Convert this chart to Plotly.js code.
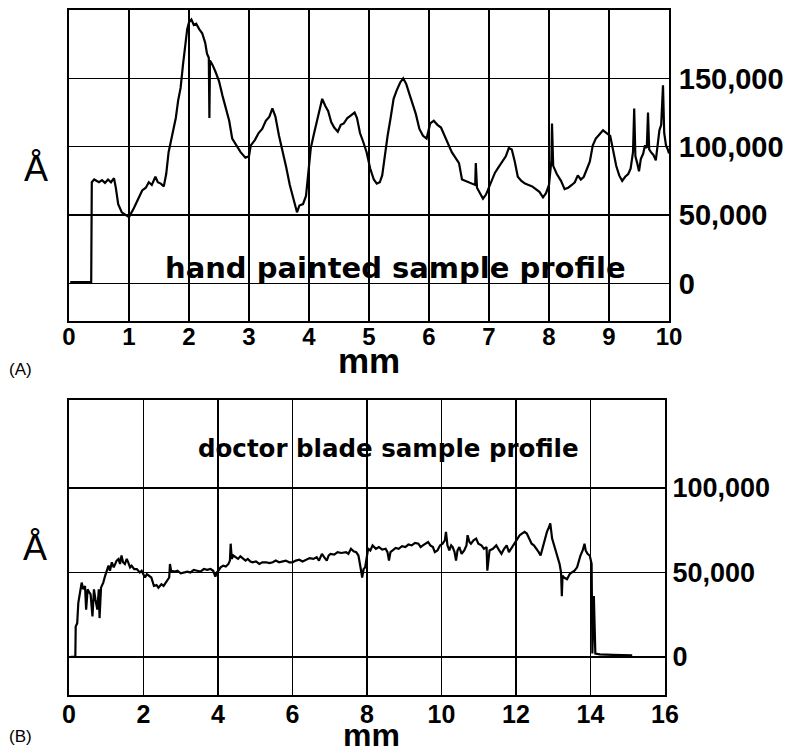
<!DOCTYPE html>
<html>
<head>
<meta charset="utf-8">
<script src="https://cdn.plot.ly/plotly-3.0.1.min.js"></script>
<style>html,body{margin:0;padding:0;background:#fff;}#chart{width:788px;height:752px;}</style>
</head>
<body>
<div id="chart"></div>
<script>
// ---- (A) hand painted sample profile : position (mm) and height (Å)
var handX = [0.02,0.2,0.37,0.38,0.42,0.5,0.55,0.6,0.65,0.7,0.75,0.78,0.82,0.88,0.95,1.0,1.08,1.15,1.22,1.28,1.33,1.38,1.44,1.48,1.53,1.58,1.62,1.66,1.72,1.78,1.82,1.86,1.9,1.93,1.97,2.0,2.04,2.08,2.12,2.17,2.22,2.27,2.3,2.33,2.34,2.35,2.39,2.44,2.5,2.56,2.62,2.67,2.72,2.78,2.86,2.94,3.0,3.03,3.1,3.16,3.22,3.28,3.34,3.39,3.44,3.5,3.56,3.62,3.68,3.74,3.8,3.84,3.9,3.95,3.98,4.03,4.08,4.13,4.18,4.22,4.27,4.32,4.37,4.42,4.48,4.53,4.58,4.64,4.7,4.76,4.8,4.85,4.9,4.96,5.02,5.08,5.13,5.18,5.22,5.27,5.31,5.36,5.41,5.46,5.52,5.57,5.62,5.67,5.72,5.78,5.84,5.9,5.96,6.02,6.08,6.14,6.2,6.26,6.32,6.38,6.44,6.5,6.55,6.6,6.66,6.72,6.77,6.78,6.8,6.85,6.9,6.95,7.0,7.05,7.1,7.16,7.22,7.28,7.33,7.38,7.43,7.48,7.54,7.6,7.66,7.72,7.78,7.84,7.9,7.95,8.0,8.04,8.05,8.07,8.13,8.2,8.26,8.32,8.38,8.43,8.48,8.53,8.58,8.63,8.68,8.73,8.78,8.84,8.9,8.96,9.02,9.07,9.12,9.17,9.22,9.27,9.32,9.36,9.4,9.42,9.44,9.47,9.5,9.53,9.57,9.6,9.63,9.65,9.67,9.7,9.74,9.78,9.81,9.84,9.87,9.9,9.92,9.95,9.98,10.0];
var handY = [1000,800,1000,74000,76000,74000,75500,73500,76000,74000,77000,70000,58000,52000,50000,48500,55000,62000,68000,70000,74000,72000,78000,74000,73000,71000,80000,96000,108000,121000,134000,143000,160000,172000,186000,191000,193000,189000,190000,186000,183000,176000,168000,165000,121000,163000,160000,155000,148000,137000,128000,119000,106000,102000,96000,92000,93000,101000,105000,110000,113000,119000,122000,128000,122000,108000,97000,85000,72000,62000,52000,57000,58000,64000,77000,99000,109000,119000,128000,135000,130000,126000,118000,114000,111000,116000,117000,121000,123000,125000,121000,110000,104000,96000,84000,76000,73000,74000,79000,97000,108000,121000,135000,141000,147000,150000,146000,139000,132000,124000,113000,108000,106000,117000,119000,116000,114000,108000,102000,96000,92000,88000,76000,75000,74000,73000,72000,88000,70000,66000,62000,65000,70000,76000,81000,85000,89000,93000,99000,98000,89000,78000,75000,73000,72000,71000,69000,67000,63000,66000,72000,90000,117000,86000,80000,75000,69000,70000,72000,74000,79000,76000,78000,83000,89000,101000,106000,109000,112000,110000,108000,97000,86000,79000,75000,78000,80000,84000,96000,128000,93000,88000,82000,91000,95000,101000,99000,125000,98000,96000,94000,90000,103000,112000,116000,145000,110000,101000,98000,95000];

// ---- (B) doctor blade sample profile
var bladeX = [0.05,0.17,0.18,0.22,0.25,0.3,0.34,0.38,0.43,0.46,0.5,0.55,0.58,0.63,0.67,0.71,0.76,0.8,0.82,0.86,0.92,0.97,1.02,1.06,1.1,1.15,1.2,1.24,1.28,1.33,1.37,1.41,1.45,1.5,1.55,1.59,1.64,1.68,1.75,1.82,1.9,1.95,2.0,2.04,2.09,2.15,2.21,2.28,2.35,2.4,2.48,2.54,2.62,2.69,2.71,2.74,2.85,2.91,3.0,3.09,3.18,3.26,3.35,3.44,3.53,3.62,3.71,3.8,3.87,3.93,3.97,4.01,4.07,4.14,4.21,4.28,4.32,4.34,4.37,4.41,4.47,4.54,4.6,4.67,4.74,4.8,4.87,4.93,5.02,5.11,5.19,5.29,5.38,5.47,5.55,5.64,5.73,5.82,5.91,6.0,6.09,6.18,6.27,6.37,6.46,6.56,6.65,6.71,6.79,6.85,6.92,6.97,7.02,7.12,7.21,7.31,7.44,7.5,7.57,7.64,7.71,7.77,7.81,7.85,7.87,7.91,7.95,7.99,8.03,8.09,8.15,8.24,8.32,8.41,8.5,8.55,8.59,8.63,8.68,8.77,8.85,8.94,9.03,9.11,9.2,9.29,9.38,9.44,9.5,9.57,9.64,9.7,9.77,9.82,9.89,9.96,10.03,10.09,10.12,10.16,10.21,10.26,10.3,10.35,10.39,10.43,10.48,10.54,10.61,10.67,10.7,10.75,10.79,10.86,10.93,10.99,11.07,11.14,11.21,11.23,11.26,11.29,11.38,11.47,11.55,11.61,11.68,11.75,11.81,11.84,11.91,11.97,12.03,12.1,12.16,12.23,12.29,12.35,12.42,12.48,12.55,12.61,12.66,12.71,12.77,12.83,12.89,12.92,12.97,13.01,13.07,13.12,13.17,13.21,13.23,13.25,13.29,13.37,13.44,13.5,13.57,13.64,13.69,13.73,13.79,13.84,13.87,13.92,13.98,14.03,14.05,14.09,14.13,14.25,14.6,15.12];
var bladeY = [0,0,18000,20000,32000,38000,44000,40000,42000,28000,40000,38000,37000,24000,40000,34000,28000,40000,23000,41000,44000,48000,52000,54000,51000,56000,53000,55000,57000,58000,55000,60000,56000,55000,58000,56000,53000,54000,52000,52000,50000,51000,49000,47000,49000,48000,47000,42000,42500,41000,43000,42000,45000,47000,55000,51000,50500,51000,49500,50000,50500,50000,51500,51000,50500,52000,51500,52000,51000,47500,50000,51000,53000,54000,53500,55000,57000,67000,58000,60000,59000,58000,59500,58000,57000,58000,56500,56000,56500,55000,56000,56000,55500,56000,57000,56000,56500,57000,56000,56000,57000,57500,56500,57500,58500,58000,59000,57000,61000,59000,57000,60000,61000,60500,62000,61500,62000,61000,64000,62500,62000,60000,56000,50000,47000,52000,53000,60000,64000,63000,66000,64000,65000,63500,64000,62000,57000,62000,63000,64500,64000,65500,65000,66500,66000,67500,67000,65000,66000,67000,68000,66000,65000,62000,63000,66000,67000,69000,74000,66000,63000,66000,65000,62000,57000,63000,65000,61000,63000,66000,72000,68000,67000,69000,70000,67000,66000,64000,65000,51000,60000,63000,64000,66000,63000,61000,64000,66000,62000,63000,66000,68000,70000,72000,73000,74000,73000,70000,67000,66000,64000,62000,60000,64000,68000,74000,77000,79000,70000,67000,62000,58000,55000,50000,36000,48000,47000,46000,49000,50000,51000,53000,57000,60000,63000,67000,63000,61000,60000,55000,2000,36000,2000,1500,1200,1000];

// ---- axis ticks
var handTickVals = [0,1,2,3,4,5,6,7,8,9,10];
var handTickText = ['0','1','2','3','4','5','6','7','8','9','10'];
var handYTickVals = [0,50000,100000,150000];
var handYTickText = ['0','50,000','100,000','150,000'];
var bladeTickVals = [0,2,4,6,8,10,12,14,16];
var bladeTickText = ['0','2','4','6','8','10','12','14','16'];
var bladeYTickVals = [0,50000,100000];
var bladeYTickText = ['0','50,000','100,000'];

var W = 788, H = 752;
var NUM = 'Liberation Sans, Arial, sans-serif';
var TXT = 'DejaVu Sans, sans-serif';

function px(x){return x/W;}
function py(y){return (H-y)/H;}

var traces = [
  {x:handX, y:handY, type:'scatter', mode:'lines', line:{color:'#000', width:2.2}, xaxis:'x', yaxis:'y', hoverinfo:'skip'},
  {x:bladeX, y:bladeY, type:'scatter', mode:'lines', line:{color:'#000', width:2.2}, xaxis:'x2', yaxis:'y2', hoverinfo:'skip'}
];

function xAxis(dom, anchor, range, tv, tt, fs, so){
  return {domain:dom, anchor:anchor, range:range, tickvals:tv, ticktext:tt,
    showgrid:true, gridcolor:'#000', gridwidth:1.5, zeroline:false,
    showline:true, mirror:true, linecolor:'#000', linewidth:2, ticks:'',
    tickfont:{family:NUM, size:fs, color:'#000', weight:700}, ticklabelstandoff:so, fixedrange:true};
}
function yAxis(dom, anchor, range, tv, tt, fs, so){
  return {domain:dom, anchor:anchor, range:range, tickvals:tv, ticktext:tt, side:'right',
    showgrid:true, gridcolor:'#000', gridwidth:1.5, zeroline:false,
    showline:true, mirror:true, linecolor:'#000', linewidth:2, ticks:'',
    tickfont:{family:NUM, size:fs, color:'#000', weight:700}, ticklabelstandoff:so, fixedrange:true};
}

var layout = {
  width:W, height:H, autosize:false, showlegend:false,
  margin:{l:0,r:0,t:0,b:0}, paper_bgcolor:'#fff', plot_bgcolor:'#fff',
  xaxis: xAxis([px(69),px(669)], 'y', [0,10], handTickVals, handTickText, 24, -7),
  yaxis: yAxis([py(321),py(10)], 'x', [-27500,200000], handYTickVals, handYTickText, 29, 2),
  xaxis2: xAxis([px(69),px(665)], 'y2', [0,16], bladeTickVals, bladeTickText, 25, -4),
  yaxis2: yAxis([py(695),py(400)], 'x2', [-22500,152000], bladeYTickVals, bladeYTickText, 27, 0),
  annotations:[
    {text:'hand painted sample profile', xref:'paper', yref:'paper', x:px(395), y:py(268), showarrow:false, xanchor:'center', yanchor:'middle', font:{family:TXT, size:29, color:'#000', weight:700}},
    {text:'doctor blade sample profile', xref:'paper', yref:'paper', x:px(388), y:py(449), showarrow:false, xanchor:'center', yanchor:'middle', font:{family:TXT, size:24.5, color:'#000', weight:700}},
    {text:'mm', xref:'paper', yref:'paper', x:px(369), y:py(360), showarrow:false, xanchor:'center', yanchor:'middle', font:{family:NUM, size:35, color:'#000', weight:700}},
    {text:'mm', xref:'paper', yref:'paper', x:px(371), y:py(735), showarrow:false, xanchor:'center', yanchor:'middle', font:{family:NUM, size:32, color:'#000', weight:700}},
    {text:'Å', xref:'paper', yref:'paper', x:px(36), y:py(168), showarrow:false, xanchor:'center', yanchor:'middle', font:{family:NUM, size:36, color:'#000'}},
    {text:'Å', xref:'paper', yref:'paper', x:px(35), y:py(547), showarrow:false, xanchor:'center', yanchor:'middle', font:{family:NUM, size:36, color:'#000'}},
    {text:'(A)', xref:'paper', yref:'paper', x:px(20), y:py(369), showarrow:false, xanchor:'center', yanchor:'middle', font:{family:NUM, size:17, color:'#000'}},
    {text:'(B)', xref:'paper', yref:'paper', x:px(20), y:py(736), showarrow:false, xanchor:'center', yanchor:'middle', font:{family:NUM, size:17, color:'#000'}}
  ]
};

Plotly.newPlot('chart', traces, layout, {staticPlot:true, displayModeBar:false});
</script>
</body>
</html>
